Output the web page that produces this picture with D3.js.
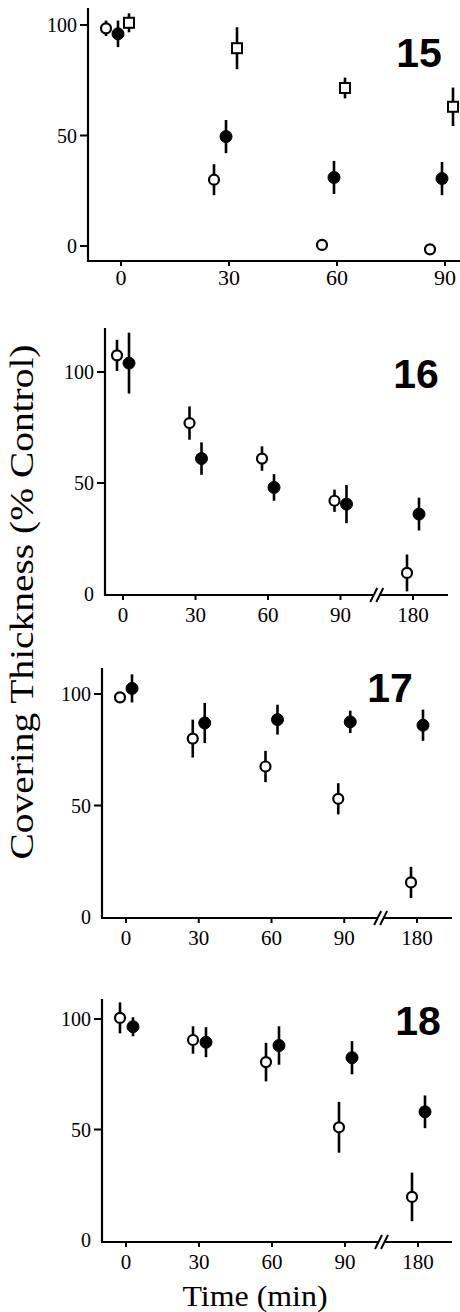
<!DOCTYPE html>
<html lang="en">
<head>
<meta charset="UTF-8">
<title>Covering Thickness</title>
<script src="https://d3js.org/d3.v7.min.js"></script>
<style>
    body { margin: 0; background: #fff; }
    svg text { fill: #000; }
</style>
</head>
<body>
<svg id="chart" width="460" height="1312"></svg>
<script>
// time points (min)
const times4 = [0, 30, 60, 90];
const times5 = [0, 30, 60, 90, 180];
const yTicks = [0, 50, 100];

// panel 15
const open15 = [98.5, 30, 0.5, -1.5];
const open15Err = [3.5, 7, 1, 2];
const filled15 = [96, 49.5, 31, 30.5];
const filled15Err = [6, 7.5, 7.5, 7.5];
const square15 = [101, 89.5, 71.5, 63];
const square15Err = [4.3, 9.5, 4.7, 8.7];

// panel 16
const open16 = [107.5, 77, 61, 42, 9.5];
const open16Err = [7, 7.5, 5.5, 5, 8.3];
const filled16 = [104, 61, 48, 40.5, 36];
const filled16Err = [13.7, 7.3, 6, 8.6, 7.4];

// panel 17
const open17 = [98.5, 80, 67.5, 53, 15.5];
const open17Err = [2, 8.5, 7, 7, 7];
const filled17 = [102.5, 87, 88.5, 87.5, 86];
const filled17Err = [6.3, 9, 6.7, 5, 7];

// panel 18
const open18 = [100.5, 90.5, 80.5, 51, 19.5];
const open18Err = [7, 6.2, 8.7, 11.5, 11];
const filled18 = [96.5, 89.5, 88, 82.5, 58];
const filled18Err = [4.3, 6.8, 8.7, 7.5, 7.4];

const serif = "'Liberation Serif', 'Times New Roman', 'DejaVu Serif', serif";
const sans = "'Liberation Sans', Arial, Helvetica, sans-serif";

const svg = d3.select("#chart");

const panels = [
    {
        label: "15", labelX: 419, labelY: 67, xFont: 22,
        axisX: 88, axisTop: 8, axisY: 261, axisEnd: 460,
        y0: 246, y100: 25, x0: 121, x90: 445, broken: false,
        ticksAt0: true, times: times4,
        series: [
            {type: "open", vals: open15, err: open15Err, dx: -15},
            {type: "filled", vals: filled15, err: filled15Err, dx: -3},
            {type: "square", vals: square15, err: square15Err, dx: 8}
        ]
    },
    {
        label: "16", labelX: 416, labelY: 388, xFont: 21,
        axisX: 105, axisTop: 328, axisY: 595, axisEnd: 448,
        y0: 594, y100: 372, x0: 123, x180: 413, broken: true,
        ticksAt0: false, times: times5,
        series: [
            {type: "open", vals: open16, err: open16Err, dx: -6},
            {type: "filled", vals: filled16, err: filled16Err, dx: 6}
        ]
    },
    {
        label: "17", labelX: 390, labelY: 702, xFont: 21,
        axisX: 102, axisTop: 668, axisY: 918, axisEnd: 452,
        y0: 917, y100: 694, x0: 126, x180: 417, broken: true,
        ticksAt0: false, times: times5,
        series: [
            {type: "open", vals: open17, err: open17Err, dx: -6},
            {type: "filled", vals: filled17, err: filled17Err, dx: 6}
        ]
    },
    {
        label: "18", labelX: 418, labelY: 1035, xFont: 21,
        axisX: 102, axisTop: 999, axisY: 1242, axisEnd: 452,
        y0: 1240, y100: 1019, x0: 126, x180: 418, broken: true,
        ticksAt0: false, times: times5,
        series: [
            {type: "open", vals: open18, err: open18Err, dx: -6},
            {type: "filled", vals: filled18, err: filled18Err, dx: 7}
        ]
    }
];

panels.forEach(drawPanel);

function drawPanel(p) {
    const g = svg.append("g");
    const y = d3.scaleLinear().domain([0, 100]).range([p.y0, p.y100]);

    // broken axis: 180 min is drawn where 120 would be
    let x;
    if (p.broken) {
        const k = (p.x180 - p.x0) / 120;
        x = d3.scaleLinear().domain([0, 90, 180]).range([p.x0, p.x0 + 90 * k, p.x180]);
    } else {
        x = d3.scaleLinear().domain([0, 90]).range([p.x0, p.x90]);
    }

    // axes lines
    g.append("line")
        .attr("x1", p.axisX).attr("x2", p.axisX)
        .attr("y1", p.axisTop).attr("y2", p.axisY + 1)
        .attr("stroke", "#000").attr("stroke-width", 2.2);
    g.append("line")
        .attr("x1", p.axisX - 1).attr("x2", p.axisEnd)
        .attr("y1", p.axisY).attr("y2", p.axisY)
        .attr("stroke", "#000").attr("stroke-width", 2.2);

    // y ticks
    yTicks.forEach(t => {
        if (t > 0 || p.ticksAt0) {
            g.append("line")
                .attr("x1", p.axisX - 8).attr("x2", p.axisX)
                .attr("y1", y(t)).attr("y2", y(t))
                .attr("stroke", "#000").attr("stroke-width", 2);
        }
        g.append("text")
            .attr("font-family", serif)
            .attr("x", p.axisX - 11)
            .attr("y", y(t) + 7)
            .attr("text-anchor", "end")
            .attr("font-size", 20)
            .text(t);
    });

    // x ticks
    p.times.forEach(t => {
        g.append("line")
            .attr("x1", x(t)).attr("x2", x(t))
            .attr("y1", p.axisY).attr("y2", p.axisY + 5)
            .attr("stroke", "#000").attr("stroke-width", 2);
        g.append("text")
            .attr("font-family", serif)
            .attr("x", x(t))
            .attr("y", p.axisY + (p.broken ? 27 : 24))
            .attr("text-anchor", "middle")
            .attr("font-size", p.xFont)
            .text(t);
    });

    // axis break, halfway between 90 and 180
    if (p.broken) {
        const bx = x(135);
        g.append("rect")
            .attr("x", bx - 3).attr("y", p.axisY - 3)
            .attr("width", 6).attr("height", 6)
            .attr("fill", "#fff");
        [-3, 3].forEach(o => {
            g.append("line")
                .attr("x1", bx + o - 3.5).attr("y1", p.axisY + 7)
                .attr("x2", bx + o + 3.5).attr("y2", p.axisY - 7)
                .attr("stroke", "#000").attr("stroke-width", 2);
        });
    }

    // data
    p.series.forEach(s => {
        const pts = p.times.map((t, i) => ({t: t, v: s.vals[i], e: s.err[i]}));
        const grp = g.append("g");

        grp.selectAll("line.err")
            .data(pts)
            .enter().append("line")
            .attr("class", "err")
            .attr("x1", d => x(d.t) + s.dx).attr("x2", d => x(d.t) + s.dx)
            .attr("y1", d => y(d.v - d.e)).attr("y2", d => y(d.v + d.e))
            .attr("stroke", "#000").attr("stroke-width", 2.6);

        if (s.type === "square") {
            grp.selectAll("rect.pt")
                .data(pts)
                .enter().append("rect")
                .attr("class", "pt")
                .attr("x", d => x(d.t) + s.dx - 5)
                .attr("y", d => y(d.v) - 5)
                .attr("width", 10).attr("height", 10)
                .attr("fill", "#fff")
                .attr("stroke", "#000").attr("stroke-width", 2);
        } else {
            grp.selectAll("circle.pt")
                .data(pts)
                .enter().append("circle")
                .attr("class", "pt")
                .attr("cx", d => x(d.t) + s.dx)
                .attr("cy", d => y(d.v))
                .attr("r", s.type === "open" ? 5 : 6)
                .attr("fill", s.type === "open" ? "#fff" : "#000")
                .attr("stroke", "#000")
                .attr("stroke-width", s.type === "open" ? 2.2 : 1);
        }
    });

    // panel number
    g.append("text")
        .attr("font-family", sans)
        .attr("font-weight", "bold")
        .attr("x", p.labelX)
        .attr("y", p.labelY)
        .attr("text-anchor", "middle")
        .attr("font-size", 41)
        .text(p.label);
}

// axis titles
svg.append("text")
    .attr("font-family", serif)
    .attr("transform", "translate(33,602) rotate(-90)")
    .attr("text-anchor", "middle")
    .attr("font-size", 34)
    .attr("textLength", 515)
    .attr("lengthAdjust", "spacingAndGlyphs")
    .text("Covering Thickness (% Control)");

svg.append("text")
    .attr("font-family", serif)
    .attr("x", 255)
    .attr("y", 1306)
    .attr("text-anchor", "middle")
    .attr("font-size", 30)
    .attr("textLength", 145)
    .attr("lengthAdjust", "spacingAndGlyphs")
    .text("Time (min)");
</script>
</body>
</html>
